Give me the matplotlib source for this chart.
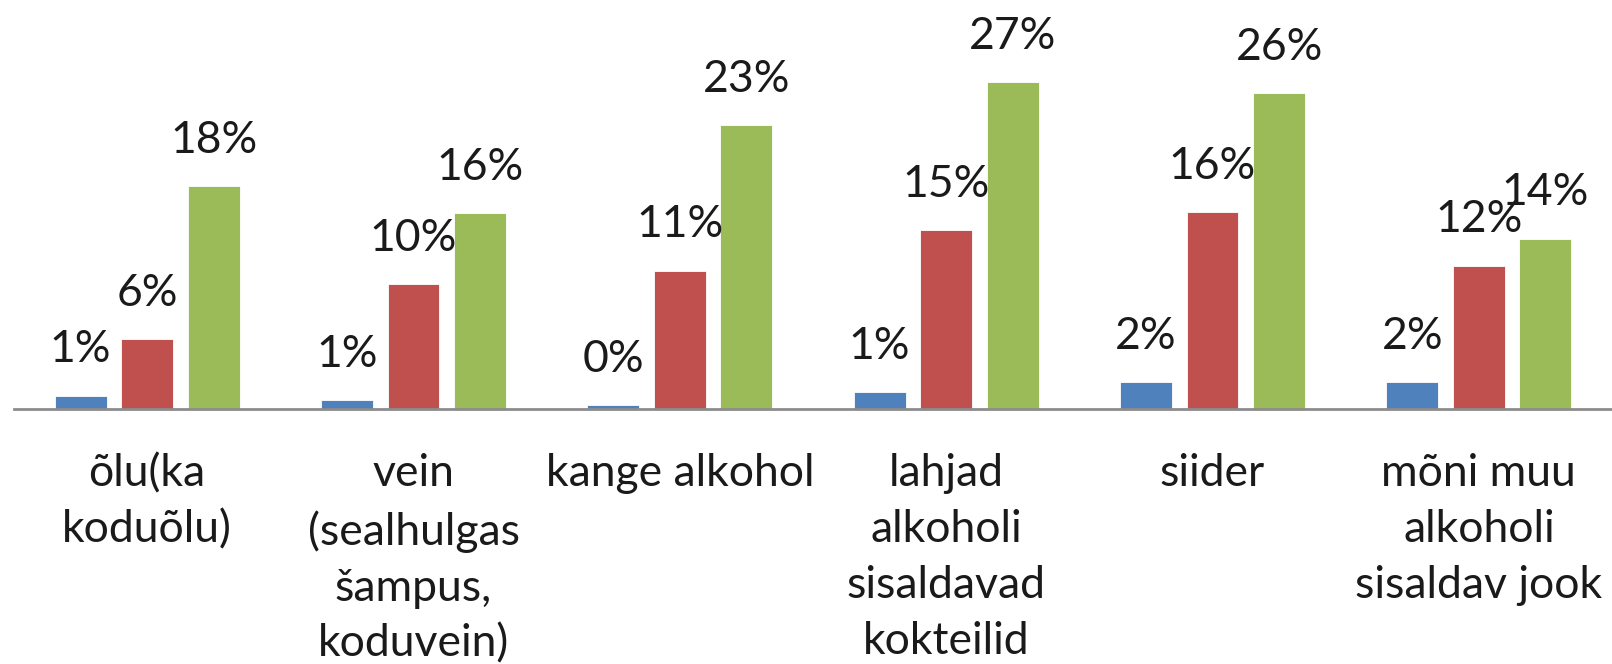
import matplotlib
matplotlib.use("Agg")
import matplotlib.pyplot as plt
import numpy as np

categories = ["õlu(ka\nkoduõlu)", "vein\n(sealhulgas\nšampus,\nkoduvein)", "kange alkohol",
              "lahjad\nalkoholi\nsisaldavad\nkokteilid", "siider", "mõni muu\nalkoholi\nsisaldav jook"]
series_blue = [1.1, 0.7, 0.3, 1.4, 2.2, 2.2]
series_red = [5.7, 10.2, 11.3, 14.6, 16.1, 11.7]
series_green = [18.2, 16.0, 23.2, 26.7, 25.8, 13.9]
colors = ["#4F81BD", "#C0504D", "#9BBB59"]

plt.rcParams['font.family'] = ['Lato', 'DejaVu Sans']

fig = plt.figure(figsize=(16.12, 6.64), dpi=100)
ax = fig.add_axes([14/1612, 1 - 409/664, 1 - 14/1612, 409/664])

x = np.arange(len(categories))
w = 0.195
for i, (vals, c) in enumerate(zip([series_blue, series_red, series_green], colors)):
    off = (i - 1) * 0.25
    bars = ax.bar(x + off, vals, width=w, color=c, edgecolor='white', linewidth=0.6)
    for b, v in zip(bars, vals):
        ax.annotate(f"{round(v):.0f}%", (b.get_x() + b.get_width()/2, b.get_height()),
                    xytext=(0, 33), textcoords='offset points', ha='center', va='center',
                    fontsize=32, color='#1a1a1a')

ax.set_xlim(-0.5, len(categories) - 0.5)
ax.set_ylim(0, 33.4)
ax.set_yticks([])
ax.set_xticks(x)
ax.set_xticklabels(categories, fontsize=32, color='#1a1a1a', linespacing=1.45)
ax.tick_params(axis='x', length=0, pad=32)
for s in ['top', 'right', 'left']:
    ax.spines[s].set_visible(False)
ax.spines['bottom'].set_color('#8c8c8c')
ax.spines['bottom'].set_linewidth(2)
ax.patch.set_alpha(0)

fig.savefig("out.png", dpi=100)
